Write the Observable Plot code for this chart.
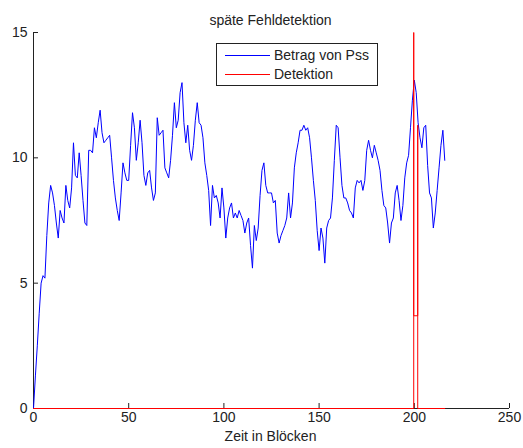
<!DOCTYPE html>
<html>
<head>
<meta charset="utf-8">
<script src="https://cdn.jsdelivr.net/npm/d3@7"></script>
<script src="https://cdn.jsdelivr.net/npm/@observablehq/plot@0.6"></script>
<style>
  body { margin: 0; background: #fff; }
  #wrap { position: relative; width: 523px; height: 448px; font-family: "Liberation Sans", Arial, sans-serif; }
  #legend { position: absolute; left: 216px; top: 43px; width: 160px; height: 41px; border: 1px solid #222; background: #fff; font-size: 14px; color: #222; }
  #legend svg { position: absolute; left: 0; top: 0; }
  #legend .lab { position: absolute; left: 57px; line-height: 16px; white-space: nowrap; }
</style>
</head>
<body>
<div id="wrap"></div>
<script>
const title = "späte Fehldetektion";
const xLabel = "Zeit in Blöcken";
const seriesNames = ["Betrag von Pss", "Detektion"];
const seriesColors = ["#0000ff", "#ff0000"];
const xTicks = [0, 50, 100, 150, 200, 250];
const yTicks = [0, 5, 10, 15];

// Betrag von Pss, one value per block (block index = array index)
const pss = [
  0, 1.3, 2.5, 3.8, 5.0, 5.3, 5.2, 6.9, 8.2, 8.9,
  8.6, 8.1, 7.4, 6.8, 7.9, 7.6, 7.4, 8.9, 8.3, 8.0,
  8.8, 10.6, 9.3, 9.2, 10.2, 9.3, 8.3, 7.4, 7.3, 10.3,
  10.3, 10.2, 11.2, 10.8, 11.4, 11.9, 11.0, 10.6, 10.7, 10.8,
  10.9, 10.0, 9.1, 8.4, 7.9, 7.5, 8.6, 9.8, 9.4, 9.1,
  9.1, 10.5, 11.8, 11.2, 9.9, 10.6, 11.5, 10.6, 9.3, 8.9,
  9.4, 9.5, 8.8, 8.3, 8.6, 11.6, 10.9, 11.0, 11.1, 9.6,
  9.4, 9.2, 9.9, 10.9, 12.2, 11.2, 11.5, 12.6, 13.0, 11.4,
  10.6, 11.3, 10.3, 9.9, 10.5, 11.5, 12.2, 11.4, 11.3, 10.8,
  9.8, 9.3, 8.7, 7.3, 8.9, 8.4, 8.5, 8.2, 7.6, 8.8,
  8.0, 6.8, 7.6, 8.0, 8.2, 7.6, 7.8, 7.6, 7.9, 7.7,
  7.5, 7.0, 7.4, 7.6, 6.5, 5.6, 7.3, 6.7, 7.2, 8.5,
  9.5, 9.8, 8.9, 8.6, 8.6, 8.6, 8.2, 8.3, 7.0, 6.6,
  6.9, 7.1, 7.3, 7.6, 8.6, 7.6, 8.2, 9.6, 10.2, 10.6,
  11.1, 11.1, 11.3, 11.1, 11.2, 10.8, 10.0, 9.1, 8.3, 7.1,
  6.3, 7.2, 6.8, 5.8, 7.2, 7.5, 7.6, 8.4, 9.9, 11.3,
  11.2, 10.0, 8.9, 8.4, 8.4, 8.2, 7.9, 7.8, 7.6, 8.8,
  9.1, 9.0, 9.1, 8.7, 9.1, 10.3, 10.7, 10.3, 10.0, 10.5,
  10.2, 9.9, 9.5, 8.7, 8.1, 8.0, 7.4, 6.6, 7.4, 7.6,
  8.6, 8.9, 8.3, 7.5, 8.1, 9.2, 9.8, 10.1, 11.2, 12.3,
  13.1, 12.6, 11.4, 10.8, 10.4, 11.2, 11.3, 9.7, 8.6, 8.4,
  7.2, 7.8, 8.7, 9.6, 10.5, 11.1, 9.9
];

// Detektion signal (path vertices)
const detX = [0, 199.7, 199.7, 199.7, 201.8, 201.8, 201.8, 216];
const detY = [0, 0, 15, 3.7, 3.7, 11.3, 0, 0];

const pssData = pss.map((v, i) => ({x: i, y: v}));
const detData = detX.map((x, i) => ({x, y: detY[i]}));

const axisColor = "#222";
const chart = Plot.plot({
  width: 523,
  height: 448,
  marginLeft: 33,
  marginRight: 14,
  marginTop: 32,
  marginBottom: 40,
  style: {fontFamily: "'Liberation Sans', Arial, sans-serif", fontSize: "14px", color: axisColor, background: "#fff"},
  x: {domain: [0, 250]},
  y: {domain: [0, 15]},
  marks: [
    Plot.ruleY([0], {stroke: axisColor}),
    Plot.ruleX([0], {stroke: axisColor}),
    Plot.axisX(xTicks, {tickSize: -5, text: null, stroke: axisColor, label: null}),
    Plot.axisX(xTicks, {tickSize: 0, tickPadding: 4, label: null, fill: axisColor, fontSize: 14}),
    Plot.axisY(yTicks, {tickSize: -5, text: null, stroke: axisColor, label: null}),
    Plot.axisY(yTicks, {tickSize: 0, tickPadding: 6, label: null, fill: axisColor, fontSize: 14}),
    Plot.line(pssData, {x: "x", y: "y", stroke: seriesColors[0], strokeWidth: 1}),
    Plot.line(detData, {x: "x", y: "y", stroke: seriesColors[1], strokeWidth: 1}),
    Plot.text([title], {frameAnchor: "top", dy: -17, dx: -1, fontSize: 14, fill: axisColor}),
    Plot.text([xLabel], {frameAnchor: "bottom", dy: 32, dx: -1, fontSize: 14, fill: axisColor})
  ]
});
const wrap = document.getElementById("wrap");
wrap.appendChild(chart);

// legend
const leg = document.createElement("div");
leg.id = "legend";
const ys = [11, 30];
let svg = `<svg width="160" height="41">`;
seriesNames.forEach((n, i) => {
  svg += `<line x1="8" x2="53" y1="${ys[i] + 0.5}" y2="${ys[i] + 0.5}" stroke="${seriesColors[i]}" stroke-width="1"/>`;
});
svg += `</svg>`;
leg.innerHTML = svg + seriesNames.map((n, i) => `<div class="lab" style="top:${ys[i] - 8}px">${n}</div>`).join("");
wrap.appendChild(leg);
</script>
</body>
</html>
